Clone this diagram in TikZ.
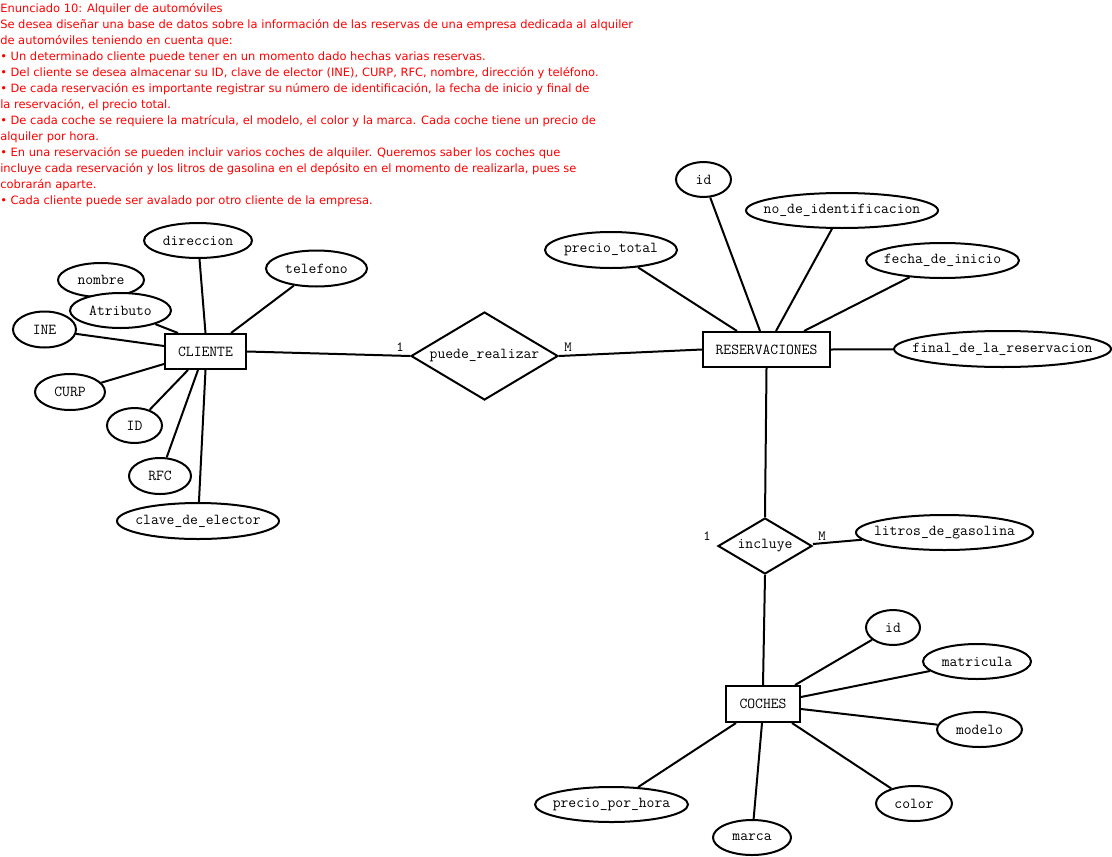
\documentclass[tikz,border=0pt]{standalone}
\usepackage{fontspec}
\setmainfont{DejaVu Sans}
\usetikzlibrary{shapes.geometric,calc}
\newcommand\zb[1]{\makebox[0pt]{#1}}
\begin{document}
\begin{tikzpicture}[x=0.75pt,y=-0.75pt,
  every node/.style={font=\ttfamily\fontsize{11.4}{13}\selectfont},
  ent/.style 2 args={draw,line width=1.5pt,rectangle,inner sep=0pt,minimum width=#1*0.75pt,minimum height=#2*0.75pt},
  attr/.style 2 args={draw,line width=1.5pt,ellipse,inner sep=0pt,minimum width=#1*0.75pt,minimum height=#2*0.75pt},
  rel/.style 2 args={draw,line width=1.5pt,diamond,inner sep=0pt,minimum width=#1*0.75pt,minimum height=#2*0.75pt},
  conn/.style={line width=1.5pt},
  card/.style={inner sep=0pt,font=\ttfamily\fontsize{10.5}{11}\selectfont}
]
\useasboundingbox (0,0) rectangle (1112,856);

\node[anchor=north west,inner sep=0pt,align=left,text=red,font=\rmfamily\fontsize{8.6}{12}\selectfont] (enun) at (0,3) {%
Enunciado 10: Alquiler de automóviles\\
Se desea diseñar una base de datos sobre la información de las reservas de una empresa dedicada al alquiler\\
de automóviles teniendo en cuenta que:\\
• Un determinado cliente puede tener en un momento dado hechas varias reservas.\\
• Del cliente se desea almacenar su ID, clave de elector (INE), CURP, RFC, nombre, dirección y teléfono.\\
• De cada reservación es importante registrar su número de identificación, la fecha de inicio y final de\\
la reservación, el precio total.\\
• De cada coche se requiere la matrícula, el modelo, el color y la marca. Cada coche tiene un precio de\\
alquiler por hora.\\
• En una reservación se pueden incluir varios coches de alquiler. Queremos saber los coches que\\
incluye cada reservación y los litros de gasolina en el depósito en el momento de realizarla, pues se\\
cobrarán aparte.\\
• Cada cliente puede ser avalado por otro cliente de la empresa.};

% entities
\node[ent={81}{35}] (cliente) at (205.5,351.5) {CLIENTE};
\node[ent={127}{35}] (reserv) at (766.5,349.5) {RESERVACIONES};
\node[ent={74}{36}] (coches) at (763,704) {COCHES};

% relationships
\node[rel={147}{88}] (pr) at (484.5,356) {\zb{puede\_realizar}};
\node[rel={94}{56}] (incl) at (765,546) {\zb{incluye}};

% cliente attributes
\node[attr={108}{35}] (direccion) at (198,240.5) {\zb{direccion}};
\node[attr={101}{36}] (telefono) at (316.5,268.5) {\zb{telefono}};
\node[attr={86}{34}] (nombre) at (101,280) {\zb{nombre}};
\node[attr={101}{35},fill=white] (atributo) at (120.5,310.5) {\zb{Atributo}};
\node[attr={63}{36}] (ine) at (44.5,329.5) {\zb{INE}};
\node[attr={70}{36}] (curp) at (70,392) {\zb{CURP}};
\node[attr={55}{35}] (idc) at (134.5,425.5) {\zb{ID}};
\node[attr={62}{36}] (rfc) at (160,476) {\zb{RFC}};
\node[attr={162}{36}] (clave) at (198,521) {\zb{clave\_de\_elector}};

% reservaciones attributes
\node[attr={55}{35}] (idr) at (703.5,179.5) {\zb{id}};
\node[attr={192}{35}] (noid) at (842,210.5) {\zb{no\_de\_identificacion}};
\node[attr={132}{36}] (ptotal) at (611,250) {\zb{precio\_total}};
\node[attr={153}{35}] (fini) at (942.5,260.5) {\zb{fecha\_de\_inicio}};
\node[attr={217}{36}] (ffin) at (1002.5,349) {\zb{final\_de\_la\_reservacion}};

% relation attribute
\node[attr={177}{35}] (litros) at (944.5,532.5) {\zb{litros\_de\_gasolina}};

% coches attributes
\node[attr={54}{35}] (idco) at (893,627.5) {\zb{id}};
\node[attr={108}{35}] (matr) at (977,661.5) {\zb{matricula}};
\node[attr={85}{35}] (modelo) at (979.5,729.5) {\zb{modelo}};
\node[attr={76}{35}] (color) at (914,803.5) {\zb{color}};
\node[attr={78}{35}] (marca) at (752,837.5) {\zb{marca}};
\node[attr={153}{35}] (pph) at (611.5,804.5) {\zb{precio\_por\_hora}};

% connectors cliente
\draw[conn] (direccion) -- (cliente.north);
\draw[conn] (telefono) -- ([shift={(25.5,0)}]cliente.north);
\draw[conn] (atributo) -- ([shift={(-27.5,0)}]cliente.north);
\draw[conn] (ine) -- ([shift={(0,-5.5)}]cliente.west);
\draw[conn] (curp) -- ([shift={(0,12.5)}]cliente.west);
\draw[conn] (idc) -- ([shift={(-17.5,0)}]cliente.south);
\draw[conn] (rfc) -- ([shift={(-7.5,0)}]cliente.south);
\draw[conn] (clave) -- (cliente.south);

% relationship connectors
\draw[conn] (cliente.east) -- (pr.west);
\draw[conn] (pr.east) -- (reserv.west);
\draw[conn] (reserv.south) -- (incl.north);
\draw[conn] (incl.south) -- (coches.north);
\draw[conn] ([shift={(0,-2)}]incl.east) -- (litros);
\node[card] (c1) at (400,347) {1};
\node[card] (c2) at (568,347) {M};
\node[card] (c3) at (707,536) {1};
\node[card] (c4) at (822,536) {M};

% reservaciones connectors
\draw[conn] (idr) -- ([shift={(-6.5,0)}]reserv.north);
\draw[conn] (noid) -- ([shift={(9.5,0)}]reserv.north);
\draw[conn] (ptotal) -- ([shift={(-29.5,0)}]reserv.north);
\draw[conn] (fini) -- ([shift={(37.5,0)}]reserv.north);
\draw[conn] (reserv.east) -- (ffin);

% coches connectors
\draw[conn] (idco) -- ([shift={(32,0)}]coches.north);
\draw[conn] (matr) -- ([shift={(0,-7)}]coches.east);
\draw[conn] (modelo) -- ([shift={(0,5)}]coches.east);
\draw[conn] (color) -- ([shift={(29,0)}]coches.south);
\draw[conn] (marca) -- ([shift={(-1,0)}]coches.south);
\draw[conn] (pph) -- ([shift={(-27,0)}]coches.south);
\end{tikzpicture}
\end{document}
